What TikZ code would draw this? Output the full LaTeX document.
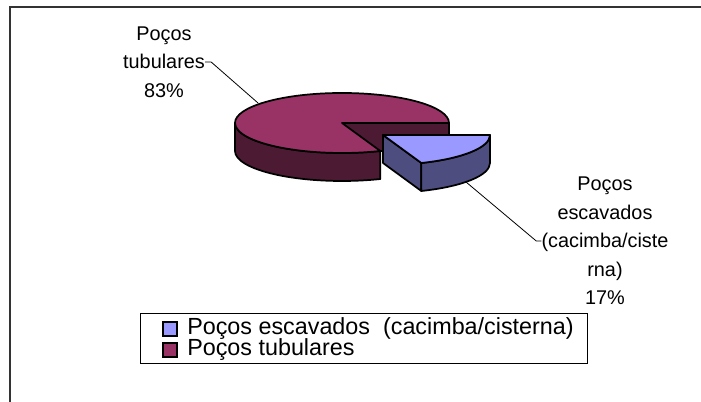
\documentclass[tikz,border=0pt]{standalone}
\usepackage{fontspec}
\setmainfont{Liberation Sans}
\usepackage{tikz}
\usetikzlibrary{calc}
\definecolor{plum}{HTML}{993366}
\definecolor{plumdark}{HTML}{4D1A33}
\definecolor{lavender}{HTML}{9999FF}
\definecolor{lavenderdark}{HTML}{4D4D80}

\begin{document}
\begin{tikzpicture}[x=0.75pt,y=0.75pt,
    pieedge/.style={black, line width=1.3pt, line join=round},
    lbl/.style={align=center, inner sep=0pt, font=\fontsize{14.9}{21.4}\selectfont},
    legtext/.style={anchor=west, inner sep=0pt, font=\fontsize{17.5}{20}\selectfont},
    legkey/.style={draw=black, line width=1pt, minimum size=10.5pt, inner sep=0pt}]
     \useasboundingbox (0,0) rectangle (701,402);
     \draw[black!80, line width=1.1pt] (10,0) -- (10,395) -- (701,395);

     \coordinate (tub) at (342,279);
     \coordinate (esc) at (383,267);

     % big slice
     \filldraw[pieedge, fill=plumdark] (tub) -- ++(107,0) -- ++(0,-28) -- ++(-107,0) -- cycle;
     \filldraw[pieedge, fill=plumdark] ($(tub)+(180:107 and 30)$) arc[start angle=180, end angle=291, x radius=107, y radius=30] -- ++(0,-28) arc[start angle=291, end angle=180, x radius=107, y radius=30] -- cycle;
     \filldraw[pieedge, fill=plum] (tub) -- ++(0:107 and 30) arc[start angle=0, end angle=291, x radius=107, y radius=30] -- cycle;

     % small slice
     \filldraw[pieedge, fill=lavenderdark] (esc) -- ++(291:107 and 30) -- ++(0,-28) -- ($(esc)+(0,-28)$) -- cycle;
     \filldraw[pieedge, fill=lavenderdark] ($(esc)+(291:107 and 30)$) arc[start angle=291, end angle=360, x radius=107, y radius=30] -- ++(0,-28) arc[start angle=360, end angle=291, x radius=107, y radius=30] -- cycle;
     \filldraw[pieedge, fill=lavender] (esc) -- ++(291:107 and 30) arc[start angle=291, end angle=360, x radius=107, y radius=30] -- cycle;

     \node[lbl] (lblTub) at (164,340) {Poços\\tubulares\\83\%};
     \node[lbl] (lblEsc) at (605,161) {Poços\\escavados\\(cacimba/ciste\\rna)\\17\%};
     \coordinate (tubTip) at (258,299);
     \coordinate (escTip) at (466,220);
     \draw[line width=0.6pt] (lblTub.east) -- ++(6,0) -- (tubTip);
     \draw[line width=0.6pt] (lblEsc.west) -- ++(-5,0) -- (escTip);

     % legend
     \draw[line width=0.7pt] (140,89) rectangle (587,39);
     \node[legkey, fill=lavender] (keyEsc) at (170,73) {};
     \node[legkey, fill=plum] (keyTub) at (170,52) {};
     \node[legtext] (txtEsc) at (187,73) {Poços escavados\ \ (cacimba/cisterna)};
     \node[legtext] (txtTub) at (187,52) {Poços tubulares};
\end{tikzpicture}
\end{document}
